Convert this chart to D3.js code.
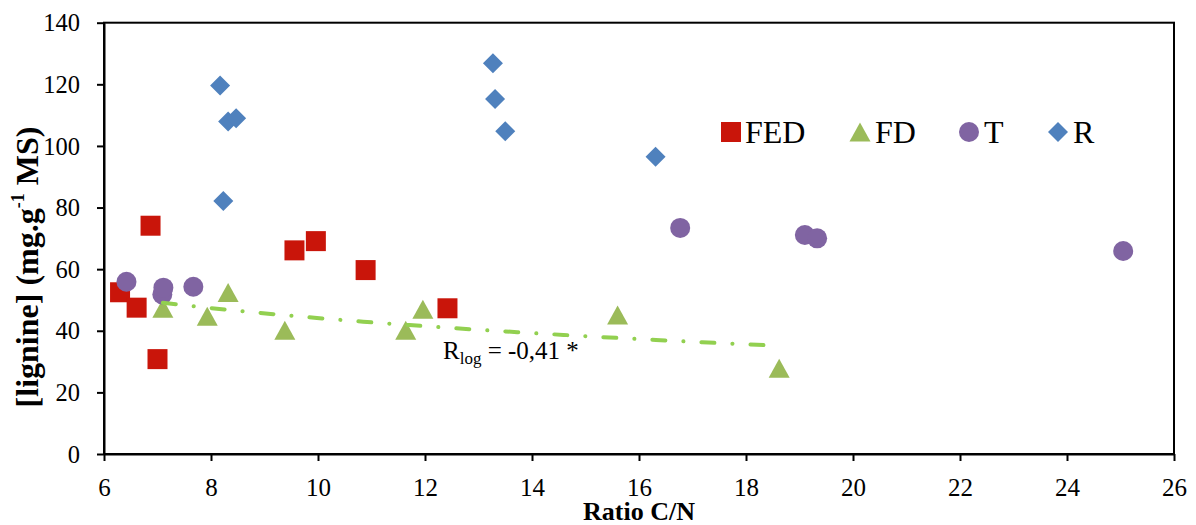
<!DOCTYPE html>
<html>
<head>
<meta charset="utf-8">
<script src="https://cdn.jsdelivr.net/npm/d3@7"></script>
<style>
  html, body { margin: 0; padding: 0; background: #fff; }
  svg { display: block; }
  svg text { font-family: "Liberation Serif", "Times New Roman", serif; }
</style>
</head>
<body>
<svg id="chart" width="1196" height="525"></svg>
<script>
// ---- data ----
const xTicks = [6, 8, 10, 12, 14, 16, 18, 20, 22, 24, 26];
const yTicks = [0, 20, 40, 60, 80, 100, 120, 140];

const fedX = [6.30, 6.61, 6.87, 7.00, 9.56, 9.96, 10.89, 12.42];
const fedY = [52.5, 47.5, 74.1, 30.8, 66.1, 69.1, 59.7, 47.3];

const fdX = [7.10, 7.93, 8.32, 9.38, 11.64, 11.96, 15.60, 18.62];
const fdY = [47.3, 44.7, 52.4, 40.2, 40.2, 47.0, 45.1, 27.8];

const tX = [6.42, 7.09, 7.11, 7.67, 16.77, 19.10, 19.33, 25.05];
const tY = [55.9, 51.8, 54.0, 54.3, 73.4, 71.1, 70.0, 65.9];

const rX = [8.17, 8.23, 8.32, 8.47, 13.27, 13.31, 13.50, 16.31];
const rY = [119.6, 82.1, 107.9, 109.0, 126.8, 115.2, 104.8, 96.5];

const seriesNames = ["FED", "FD", "T", "R"];
const trendLabel = "= -0,41 *";

// ---- layout ----
const svg = d3.select("#chart");
const L = 104, R = 1174, T = 22.7, B = 454;
const x = d3.scaleLinear().domain([6, 26]).range([L, R]);
const y = d3.scaleLinear().domain([0, 140]).range([B, T]);

const colors = { FED: "#C9150A", FD: "#9BBB59", T: "#8064A2", R: "#4F81BD" };

function markerPath(type, s) {
  const h = s / 2;
  if (type === "FED") return `M${-h},${-h}H${h}V${h}H${-h}Z`;
  if (type === "FD") { const th = s * 0.95 / 2; return `M0,${-th}L${h + 0.5},${th}L${-h - 0.5},${th}Z`; }
  if (type === "T") return `M${-h},0A${h},${h} 0 1,0 ${h},0A${h},${h} 0 1,0 ${-h},0Z`;
  if (type === "R") return `M0,${-h}L${h},0L0,${h}L${-h},0Z`;
}

// ---- frame ----
svg.append("rect").attr("x", L).attr("y", T).attr("width", R - L).attr("height", B - T)
  .attr("fill", "none").attr("stroke", "#000").attr("stroke-width", 2);

// ---- axes ----
const xAxis = svg.append("g").attr("transform", `translate(0,${B})`)
  .call(d3.axisBottom(x).tickValues(xTicks).tickSize(7).tickSizeOuter(0).tickFormat(d3.format("d")));
xAxis.attr("font-family", null);
xAxis.select(".domain").attr("stroke-width", 2);
xAxis.selectAll(".tick line").attr("stroke-width", 2);
xAxis.selectAll(".tick text").attr("y", 42).attr("dy", 0)
  .style("font-family", "'Liberation Serif', serif").style("font-size", "25px").attr("fill", "#000");

const yAxis = svg.append("g").attr("transform", `translate(${L},0)`)
  .call(d3.axisLeft(y).tickValues(yTicks).tickSize(7).tickSizeOuter(0).tickFormat(d3.format("d")));
yAxis.attr("font-family", null);
yAxis.select(".domain").attr("stroke-width", 2);
yAxis.selectAll(".tick line").attr("stroke-width", 2);
yAxis.selectAll(".tick text").attr("x", -24).attr("dy", "0.33em")
  .style("font-family", "'Liberation Serif', serif").style("font-size", "24.5px").attr("fill", "#000");

// ---- axis titles ----
svg.append("text").attr("x", (L + R) / 2).attr("y", 520)
  .attr("text-anchor", "middle").attr("font-weight", "bold").attr("font-size", 26)
  .text("Ratio C/N");

const yt = svg.append("text").attr("transform", "translate(38,267) rotate(-90)")
  .attr("text-anchor", "middle").attr("font-weight", "bold").attr("font-size", 32);
yt.append("tspan").text("[lignine] (mg.g");
yt.append("tspan").attr("font-size", 18).attr("dy", -14).text("-1");
yt.append("tspan").attr("dy", 14).text(" MS)");

// ---- series ----
const series = [
  { name: "FED", xs: fedX, ys: fedY },
  { name: "FD", xs: fdX, ys: fdY },
  { name: "T", xs: tX, ys: tY },
  { name: "R", xs: rX, ys: rY }
];
series.forEach(s => {
  const pts = s.xs.map((v, i) => [v, s.ys[i]]);
  svg.append("g").selectAll("path").data(pts).join("path")
    .attr("d", markerPath(s.name, 20))
    .attr("transform", d => `translate(${x(d[0])},${y(d[1])})`)
    .attr("fill", colors[s.name]);
});

// ---- logarithmic trendline on FD (least squares y = a + b ln x) ----
const lx = fdX.map(Math.log);
const mx = d3.mean(lx), my = d3.mean(fdY);
const b = d3.sum(lx.map((v, i) => (v - mx) * (fdY[i] - my))) / d3.sum(lx.map(v => (v - mx) ** 2));
const a = my - b * mx;
const [x0, x1] = d3.extent(fdX);
const trendPts = d3.range(0, 41).map(i => x0 + (x1 - x0) * i / 40).map(v => [v, a + b * Math.log(v)]);
svg.append("path").datum(trendPts)
  .attr("d", d3.line().x(d => x(d[0])).y(d => y(d[1])))
  .attr("fill", "none").attr("stroke", "#92D050").attr("stroke-width", 4)
  .attr("stroke-linecap", "round").attr("stroke-dasharray", "13,18,0.1,18");

// ---- trend label ----
const tl = svg.append("text").attr("x", 443).attr("y", 359).attr("font-size", 25);
tl.append("tspan").text("R");
tl.append("tspan").attr("font-size", 17).attr("dy", 5).text("log");
tl.append("tspan").attr("dy", -5).text(" " + trendLabel);

// ---- legend ----
const legendX = [731, 860, 969, 1058];
const legendTextX = [745, 875, 984, 1073];
seriesNames.forEach((n, i) => {
  svg.append("path").attr("d", markerPath(n, 20))
    .attr("transform", `translate(${legendX[i]},132)`).attr("fill", colors[n]);
  svg.append("text").attr("x", legendTextX[i]).attr("y", 143).attr("font-size", 32).text(n);
});
</script>
</body>
</html>
